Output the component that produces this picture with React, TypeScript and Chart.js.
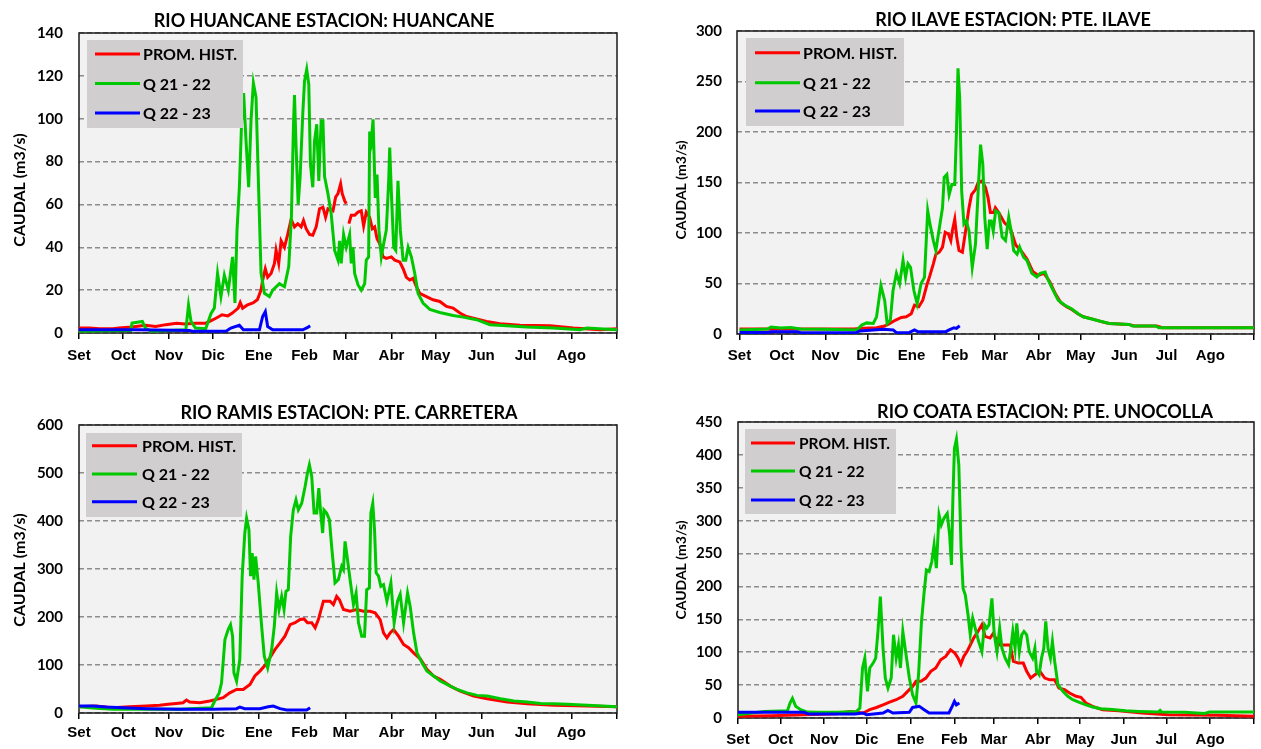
import React, { useEffect, useRef } from "react";
import { Chart, registerables } from "chart.js";

Chart.register(...registerables);
Chart.defaults.font.family = "Lato";

type Pt = [number, number | null];

const MONTH_LABELS = ["Set", "Oct", "Nov", "Dic", "Ene", "Feb", "Mar", "Abr", "May", "Jun", "Jul", "Ago"];
const MONTH_STARTS = [0, 30, 61, 91, 122, 153, 181, 212, 242, 273, 303, 334, 365];
const LEGEND_LABELS = ["PROM. HIST.", "Q 21 - 22", "Q 22 - 23"];
const COLORS = ["#ff0000", "#00c800", "#0000ff"];
const Y_TITLE = "CAUDAL (m3/s)";

// ---------- RIO HUANCANE (day of hydrological year from 1 Sep, m3/s) ----------
const huancaneProm: Pt[] = [[0,2.3],[7,2.3],[14,2],[23,2],[27,2.3],[36,2.8],[45,3.6],[52,3],[59,3.9],[66,4.6],[72,4.2],[79,4.6],[86,4.6],[91,6.2],[95,7.7],[97,8.5],[101,8],[104,9.3],[108,11.6],[109.4,14.2],[111,11.6],[114,13],[118,14],[121,15.5],[123.5,20],[124.6,24.7],[126.4,30],[128,26],[130.3,27.8],[132.6,32.5],[133.7,38.6],[135.5,32.5],[137.1,43],[139.4,40],[141.6,46],[143.9,53],[146.2,49.5],[148.4,51],[150.7,49.5],[152.3,52.5],[154.1,48.7],[156.4,46],[158.6,45.6],[160.9,49.5],[163.2,58],[165.5,58.7],[167.3,54],[168.9,58],[172.3,57],[174.1,63.4],[175.7,65],[177.5,69.6],[178.6,65],[180.2,61.8],[181.3,60.3],[182.2,null],[183.1,51],[184.7,54.9],[187,54.9],[189.3,56.4],[191.5,57],[193.1,50],[194.9,56.4],[197.2,54],[199,48.7],[200.6,49.5],[202.2,44],[204,41.7],[206.3,35.5],[208.5,34.8],[211.9,35.5],[214.2,34],[217.6,33.2],[219.9,30],[222.1,26],[224.4,24.7],[226.6,25.5],[228.9,21.6],[231.2,18.5],[235.7,17],[240.2,15.5],[244.8,14.7],[249.3,12.4],[253.8,11.6],[258.4,9.3],[262.9,7.7],[269.7,6.5],[276.5,5.4],[285.6,4.3],[299.2,3.6],[319.6,3.4],[335.4,2.3],[353.5,1.5],[365,2]];
const huancaneQ2122: Pt[] = [[0,0.8],[20,1],[35,1.2],[36,4.6],[43,5.4],[45,2.3],[49,0.8],[72.5,1.5],[74.3,13],[76,5.4],[79,2.3],[86,2],[89.5,9],[91.8,11.6],[94,27.8],[96.3,17],[98.6,27],[101.3,20],[104.2,35.5],[105.8,14],[107.2,48],[108.8,68],[110.4,100],[111.7,112],[113.3,90],[115.1,68],[116.7,99],[118.3,116.7],[120.1,110],[121.7,71],[123.5,28],[125.8,18.5],[129.2,17],[131.4,20],[136,23],[139.4,21.6],[142.3,31],[144.1,54],[145.5,97],[146.2,111],[147.3,86.5],[148.7,60],[150,72.6],[151.8,102],[153,117.5],[154.5,123],[155.9,116],[157,79],[158.6,68],[159.8,89.6],[161.3,97.4],[162.7,71],[164.3,99],[165.5,99],[166.6,73],[168.9,65],[171.1,55.6],[173.4,38.6],[175.7,34],[176.8,43],[177.9,32.5],[179.5,46],[181.3,40],[183.6,46],[184.7,32.5],[185.9,40],[187,27.8],[189.3,22.4],[191.5,20],[193.8,23],[194.9,34],[196.5,35.5],[197.2,94],[198.3,89.6],[199.5,99.7],[201,63],[202.2,74],[203.5,48],[205.1,35.5],[206.7,41.7],[208.5,48],[210.1,71],[210.8,86.5],[211.9,66],[213.5,40],[214.9,38.6],[216.4,71],[218,48],[219.9,34],[221.7,34],[223.3,40],[225.5,35.5],[227.8,27.8],[230,18.5],[233.4,14],[238,11],[244.8,9.6],[253.8,8.2],[260.6,7.4],[269.7,6.2],[278.8,3.9],[290.1,3.4],[303.7,2.8],[321.8,2.3],[340,1.5],[344.5,2.3],[365,1.5]];
const huancaneQ2223: Pt[] = [[0,1.5],[40,1.5],[75,1.2],[77,0.8],[99.7,0.8],[103,2.3],[108.8,3.6],[111.5,1.5],[122.4,1.5],[124.6,7.7],[126.4,10],[128,3],[131.4,1.5],[151.8,1.5],[155.2,2.6],[156.8,3.4]];

// ---------- RIO ILAVE ----------
const ilaveProm: Pt[] = [[0,5],[80.8,5],[87.9,5.6],[97.2,6.2],[103,7.9],[106.6,10.5],[110.8,13.8],[114.8,16.4],[118.3,17],[121.8,20],[124.1,28.5],[127.2,27],[130,33.4],[132.8,48],[135.1,58],[137.5,69.5],[139.3,79],[141.7,81],[144,86],[145.9,100.7],[148.2,99],[149.9,92.5],[151,102.3],[152.7,113.8],[154.1,95.7],[155.7,82.6],[158.1,81],[160.4,102.3],[162.8,125],[164.6,138],[167.4,143],[169.3,150],[172.1,151.5],[174.5,145],[176.3,135],[178,120.3],[180.3,120.3],[181.5,125],[184,120],[188,110],[192,105],[196,88],[200,82],[204,74],[208,62],[212,58],[216,60],[220,52],[224,40],[228,31],[232,27],[236,24],[240,20],[244,17],[250,15],[256,12.5],[262,10.5],[276,9.5],[280,8],[296,7.8],[300,6.2],[365,6.2]];
const ilaveQ2122: Pt[] = [[0,4],[20,5],[22.3,7],[29.3,6],[36.4,6.5],[43.4,5],[59.8,4.6],[83.2,4],[86.7,8.8],[90.2,11],[94.9,10.5],[97.2,17],[100.3,48],[103,33],[104.7,10.5],[107,13.8],[108.9,43],[111.3,60],[113.6,50],[116,73],[117.8,56],[119.5,69.5],[121.3,66],[123.7,43],[126,30],[128.8,50],[131.2,56],[133.5,122],[135.1,109],[137.5,92.5],[139.3,82.6],[142.2,109],[144,125],[145.2,155],[147.1,158],[148.7,138],[150.6,148],[152.7,148],[153.9,200],[155,263],[156.2,233],[157.6,141.6],[159.2,109],[160.9,112],[162.8,102],[165.1,66],[167.4,89],[169.3,141.6],[171,187.5],[172.6,168],[174,115],[175.7,84],[177.3,112],[178.6,112],[180,102],[181.7,122],[184,120],[186.3,96],[188.7,92.5],[191,115.4],[192.7,102],[194.5,82.6],[196.9,79],[198.7,86],[201.5,76],[203.9,72.8],[207.4,60],[210.9,56.4],[213.3,60],[216.8,61.3],[219.1,53],[222.6,43],[226.1,33.4],[230.8,28.5],[235.5,25],[240.2,20],[243.7,17],[248.4,15.4],[255.4,12.8],[262.4,10.5],[276.5,9.5],[278.8,7.9],[295.2,7.9],[297.5,6.2],[365,6.2]];
const ilaveQ2223: Pt[] = [[0,1.6],[20,1.6],[22.3,2.3],[41,2.3],[43.4,1.3],[83,1.6],[85.5,3],[101.9,4.6],[109,4],[111.3,1.3],[120.6,1.6],[124.1,4],[126.5,2.3],[146.4,2.3],[148.7,4],[152.2,6.2],[153.9,5.6],[156.2,8.2]];

// ---------- RIO RAMIS ----------
const ramisProm: Pt[] = [[0,13],[11.6,14.6],[23,11],[34.3,13],[45.6,14.6],[54.7,16],[60.4,18],[66,20],[70.6,21.5],[72.9,27],[75.1,22.9],[82,21.5],[88.7,25],[93.3,28.4],[97.8,32],[102.3,42],[106.9,49],[111.4,49],[116,59.6],[119.3,77],[122.7,87.3],[126.1,99],[129.5,115],[132.9,132],[136.4,146],[139.7,160],[143.2,184],[146.6,188],[150,194.7],[152.7,196],[155,188],[157.9,188],[160.2,177.4],[162.4,194.7],[165.8,233],[170.3,233],[172.6,226],[174.8,243],[176.7,236],[179.4,215.5],[183.9,212],[188.4,215.5],[193,212],[197.5,212],[200.9,208.6],[204.3,194.7],[206.6,167],[208.9,156.6],[211.1,167],[213.4,174],[216.8,160],[220.2,142.8],[223.6,136],[227,125.4],[231.5,113],[236,90.8],[240.6,77],[245.1,70],[251.9,56],[258.7,45.7],[267.8,35.3],[276.9,29.8],[290.5,22.9],[304.1,19.4],[322.2,16],[344.9,14.6],[365,13]];
const ramisQ2122: Pt[] = [[0,13],[9.4,10.4],[23,7.6],[45.6,7.6],[68.3,7.6],[89.9,11],[92.1,25],[95.1,42],[96.7,63],[99,153],[101.2,174],[102.8,184],[104.2,160],[105.1,84],[106.9,66.5],[109.1,111.6],[110.7,285],[112.5,375],[113.7,406],[115.3,382],[116.4,285],[117.5,333],[118.7,278],[119.8,326],[121.6,271],[123.9,181],[125.7,118.5],[128,94],[130.7,132],[132.5,181],[134.1,250],[135.7,215.5],[137.5,243],[139.1,215.5],[140.4,253.6],[142,257],[143.6,368],[145.4,423],[147.2,444],[148.8,423],[151.1,437],[153.4,472],[155,500],[156.3,517],[157.9,493],[159.5,416.5],[161.3,416.5],[162.7,468.5],[164,416.5],[165.3,375],[166.2,423],[168,416.5],[169.9,402.6],[171.4,347],[173.7,271],[176,278],[178.2,305.6],[179.4,298.7],[180.5,357.6],[181.6,333],[183.9,278],[186.2,226],[188,250],[189.6,188],[191.8,160],[193.7,160],[195.2,257],[197,260.6],[198,416.5],[199.3,437],[200.5,382],[201.6,292],[203.2,285],[204.8,264],[206.6,267.5],[208.9,233],[211.6,271],[213.8,188],[216.1,233],[217.9,247],[220.2,188],[222.9,250],[224.7,222],[227,167],[229.3,125.4],[232.7,104.6],[236,87.3],[240.6,77],[245.1,66.5],[249.7,59.6],[256.5,49],[263.3,42],[270.1,36.7],[276.9,35.3],[286,29.8],[295,25],[304.1,22.9],[313.2,20],[322.2,19.4],[331.3,18],[344.9,16],[365,13]];
const ramisQ2223: Pt[] = [[0,14.6],[9.4,14.6],[18.4,12.5],[29.8,11],[45.6,9],[68.3,7.6],[91,7.6],[106.9,9],[109.1,12.5],[112.5,9],[122.7,9],[128.4,13],[131.8,14.6],[136.4,9],[140.9,6.2],[154.5,6.2],[156.8,11]];

// ---------- RIO COATA ----------
const coataProm: Pt[] = [[0,2.5],[23.3,3.5],[46.6,5],[70,6.6],[79.3,10],[88.6,7.6],[93.2,12.7],[97.9,16],[102.6,20],[107.2,24],[111.9,27.8],[116.6,33],[120,40.5],[123.5,48],[125.9,55.7],[129.4,55.7],[132.9,60.7],[136.4,70.9],[139.9,76],[143.4,88.6],[146.9,93.6],[150.3,103.7],[153.4,98.7],[155.7,91],[157.6,82],[159.7,93.6],[162,101],[164.3,111],[166.7,121.5],[169,129],[172.5,141.7],[174.8,124],[178.3,121.5],[180.7,129],[183.2,116.4],[185.5,111],[189,111],[192.5,111],[194.8,86],[198.3,83.5],[201.8,83.5],[204.2,70.9],[207,60.7],[210,65.8],[213.5,70.9],[217,60.7],[220.5,58],[224,58],[227,45.5],[231,43],[234.5,38],[239.1,33],[242.6,31.4],[246.1,22.8],[250.8,17.7],[257.8,12.7],[269.4,11],[285.8,7.6],[304.4,5],[339.4,4],[365,2.5]];
const coataQ2122: Pt[] = [[0,5],[18.6,10],[35,11],[36.8,22.8],[38.5,30],[40.8,17.7],[44.3,12.7],[49,9],[57.1,8.6],[70,8.6],[83.9,10],[86.2,15],[88.1,76],[89.7,91],[91.6,40.5],[93.2,76],[95.6,83.5],[97.4,91],[99,131.6],[100.7,184.7],[102.6,106],[104.2,60.7],[106.1,45.5],[108.4,60.7],[110,126.5],[111.9,91],[113.5,111],[114.9,76],[116.6,131.6],[118.9,96],[121.2,60.7],[123.5,35.4],[125.9,22.8],[127.7,65.8],[129.8,146.8],[131.7,192],[133.3,225],[135.2,222.7],[137.1,237.9],[138.7,263],[140.3,227.7],[142.2,308.7],[143.8,293.5],[145.7,303.6],[148,311],[149.7,278],[151,232.8],[152,334],[153.1,410],[154.5,424],[156.2,384.6],[157.8,258],[159.2,197],[160.8,187],[162.7,157],[164.3,126.5],[166,151.8],[167.8,136.6],[170.2,116.4],[172.5,101],[174.4,141.7],[176,136.6],[177.6,141.7],[179.6,182],[181.3,126.5],[183.2,101],[185.1,136.6],[186.7,106],[189,91],[191.4,81],[193,106],[194.4,131.6],[196,106],[197.2,144],[199,101],[200.7,126.5],[202.3,131.6],[204.2,126.5],[206,101],[208.4,91],[210,106],[211.2,70.9],[213,65.8],[214.7,91],[216.3,106],[217.7,146.8],[219.3,106],[221,91],[222.4,116.4],[224,86],[226.3,50.6],[229.8,40.5],[233.3,32.9],[236.8,27.8],[241.5,23.8],[246.1,20],[250.8,16.7],[256.6,14.2],[264.8,13],[274.1,11],[283.4,10],[297.4,9],[298.6,11.6],[299.7,9],[316,8.6],[330,7],[333.5,9],[365,9]];
const coataQ2223: Pt[] = [[0,8.6],[46.6,8.6],[50,6],[82.7,6],[88.6,7.6],[90.9,5],[102.6,7.6],[106,11.6],[109.6,7.6],[121.2,8.6],[123.5,16],[128.2,17.7],[131.7,12.7],[135.2,7.6],[149.2,7.6],[151.5,17.7],[153.1,25.3],[154.5,20],[156.6,22.8]];

interface Box { l: number; t: number; w: number; h: number }
interface Area { l: number; t: number; r: number; b: number }
interface LegendCfg { dx: number; dy: number; w: number; h: number; rows: number[]; lx0: number; lx1: number; tx: number; size: number }
interface PanelCfg {
  title: string; titleX: number; titleBase: number; titleSize: number;
  yTitleX: number; yTitleY: number; yTitleSize: number;
  yMax: number; yStep: number; xMin: number;
  canvas: Box; area: Area; yPad: number; xPad: number;
  series: Pt[][]; legend: LegendCfg;
}

const PANELS: PanelCfg[] = [
  {
    title: "RIO HUANCANE ESTACION: HUANCANE", titleX: 324, titleBase: 27, titleSize: 18,
    yTitleX: 20, yTitleY: 190, yTitleSize: 16,
    yMax: 140, yStep: 20, xMin: 0,
    canvas: { l: 0, t: 0, w: 630, h: 382 }, area: { l: 79, t: 33, r: 617, b: 333 }, yPad: 16, xPad: 8,
    series: [huancaneProm, huancaneQ2122, huancaneQ2223],
    legend: { dx: 8, dy: 7, w: 156, h: 88, rows: [14, 43.5, 73], lx0: 8, lx1: 53, tx: 56, size: 16 },
  },
  {
    title: "RIO ILAVE ESTACION: PTE. ILAVE", titleX: 1013, titleBase: 26, titleSize: 18,
    yTitleX: 681, yTitleY: 190, yTitleSize: 14,
    yMax: 300, yStep: 50, xMin: -1.8,
    canvas: { l: 640, t: 0, w: 621, h: 382 }, area: { l: 737, t: 31, r: 1259, b: 334 }, yPad: 15, xPad: 7,
    series: [ilaveProm, ilaveQ2122, ilaveQ2223],
    legend: { dx: 9, dy: 7, w: 158, h: 88, rows: [14.7, 44.7, 73], lx0: 9, lx1: 54, tx: 57, size: 16 },
  },
  {
    title: "RIO RAMIS ESTACION: PTE. CARRETERA", titleX: 349, titleBase: 419, titleSize: 18,
    yTitleX: 20, yTitleY: 570, yTitleSize: 16,
    yMax: 600, yStep: 100, xMin: 0,
    canvas: { l: 0, t: 385, w: 630, h: 364 }, area: { l: 79, t: 425, r: 617, b: 713 }, yPad: 16, xPad: 5,
    series: [ramisProm, ramisQ2122, ramisQ2223],
    legend: { dx: 7, dy: 8, w: 156, h: 84, rows: [12.7, 41, 68.7], lx0: 6, lx1: 51, tx: 56, size: 16 },
  },
  {
    title: "RIO COATA ESTACION: PTE. UNOCOLLA", titleX: 1045, titleBase: 418, titleSize: 18,
    yTitleX: 681, yTitleY: 570, yTitleSize: 14,
    yMax: 450, yStep: 50, xMin: 0,
    canvas: { l: 640, t: 385, w: 621, h: 364 }, area: { l: 738, t: 422, r: 1259, b: 718 }, yPad: 16, xPad: 7,
    series: [coataProm, coataQ2122, coataQ2223],
    legend: { dx: 7, dy: 7, w: 151, h: 85, rows: [14, 42, 71], lx0: 6, lx1: 50, tx: 54, size: 15.5 },
  },
];

function toXY(a: Pt[]) {
  return a.map(([x, y]) => ({ x, y }));
}

function Panel({ cfg }: { cfg: PanelCfg }) {
  const ref = useRef<HTMLCanvasElement | null>(null);
  useEffect(() => {
    const c = cfg;
    const canvas = ref.current;
    if (!canvas) return;
    const padTop = c.area.t - c.canvas.t;
    const padRight = c.canvas.l + c.canvas.w - c.area.r;
    const yAxisW = c.area.l - c.canvas.l;
    const xAxisH = c.canvas.t + c.canvas.h - c.area.b;

    const decor = {
      id: "decor",
      beforeDraw(chart: any) {
        const { ctx, chartArea: a } = chart;
        ctx.save();
        ctx.fillStyle = "#f2f2f2";
        ctx.fillRect(a.left, a.top, a.right - a.left, a.bottom - a.top);
        ctx.restore();
      },
      beforeDatasetsDraw(chart: any) {
        const { ctx, chartArea: a } = chart;
        ctx.save();
        ctx.strokeStyle = "#1a1a1a";
        ctx.lineWidth = 1.5;
        ctx.strokeRect(a.left, a.top, a.right - a.left, a.bottom - a.top);
        ctx.restore();
      },
      afterDatasetsDraw(chart: any) {
        const { ctx, chartArea: a } = chart;
        const L = c.legend;
        ctx.save();
        const bx = a.left + L.dx;
        const by = a.top + L.dy;
        ctx.fillStyle = "#d0cece";
        ctx.fillRect(bx, by, L.w, L.h);
        ctx.font = `bold ${L.size}px Lato`;
        ctx.textBaseline = "middle";
        ctx.textAlign = "left";
        LEGEND_LABELS.forEach((lab, i) => {
          const ry = by + L.rows[i];
          ctx.strokeStyle = COLORS[i];
          ctx.lineWidth = 3;
          ctx.beginPath();
          ctx.moveTo(bx + L.lx0, ry);
          ctx.lineTo(bx + L.lx1, ry);
          ctx.stroke();
          ctx.fillStyle = "#000";
          ctx.fillText(lab, bx + L.tx, ry + 1);
        });
        ctx.font = `bold ${c.titleSize}px Lato`;
        ctx.textAlign = "center";
        ctx.textBaseline = "alphabetic";
        ctx.fillText(c.title, c.titleX - c.canvas.l, c.titleBase - c.canvas.t);
        ctx.translate(c.yTitleX - c.canvas.l, c.yTitleY - c.canvas.t);
        ctx.rotate(-Math.PI / 2);
        ctx.font = `bold ${c.yTitleSize}px Lato`;
        ctx.textBaseline = "middle";
        ctx.fillText(Y_TITLE, 0, 0);
        ctx.restore();
      },
    };

    const chart = new Chart(canvas, {
      type: "line",
      data: {
        datasets: c.series.map((s, i) => ({
          label: LEGEND_LABELS[i],
          data: toXY(s) as any,
          borderColor: COLORS[i],
          backgroundColor: COLORS[i],
          borderWidth: 3,
          pointRadius: 0,
          pointHoverRadius: 0,
          fill: false,
          tension: 0,
          spanGaps: false,
          order: 3 - i,
        })),
      },
      options: {
        responsive: false,
        animation: false,
        devicePixelRatio: 1,
        events: [],
        layout: { padding: { left: 0, top: padTop, right: padRight, bottom: 0 } },
        plugins: { legend: { display: false }, title: { display: false }, tooltip: { enabled: false } },
        scales: {
          x: {
            type: "linear",
            min: c.xMin,
            max: 365,
            afterBuildTicks: (scale: any) => {
              scale.ticks = MONTH_STARTS.map((v) => ({ value: v }));
            },
            afterFit: (scale: any) => {
              scale.height = xAxisH;
            },
            ticks: {
              autoSkip: false,
              maxRotation: 0,
              minRotation: 0,
              padding: c.xPad,
              color: "#000",
              font: { family: "'Liberation Sans', Arial, sans-serif", size: 15, weight: "bold" },
              callback: (value: any) => {
                const idx = MONTH_STARTS.indexOf(Number(value));
                return idx >= 0 && idx < MONTH_LABELS.length ? MONTH_LABELS[idx] : "";
              },
            },
            grid: { display: true, drawOnChartArea: false, drawTicks: true, tickLength: 6, color: "#000", lineWidth: 1.5 },
            border: { display: false },
          },
          y: {
            type: "linear",
            min: 0,
            max: c.yMax,
            afterFit: (scale: any) => {
              scale.width = yAxisW;
            },
            ticks: {
              stepSize: c.yStep,
              padding: c.yPad,
              color: "#000",
              font: { family: "Lato", size: 15, weight: "bold" },
            },
            grid: { display: true, drawOnChartArea: true, drawTicks: false, color: "#8c8c8c", lineWidth: 1.5 },
            border: { display: false, dash: [5, 3] },
          },
        },
      } as any,
      plugins: [decor],
    });
    return () => chart.destroy();
  }, [cfg]);

  return (
    <canvas
      ref={ref}
      width={cfg.canvas.w}
      height={cfg.canvas.h}
      style={{ position: "absolute", left: cfg.canvas.l, top: cfg.canvas.t, width: cfg.canvas.w, height: cfg.canvas.h }}
    />
  );
}

export default function App() {
  return (
    <div style={{ position: "absolute", left: 0, top: 0, width: 1261, height: 749, background: "#fff", overflow: "hidden" }}>
      {PANELS.map((p, i) => (
        <Panel key={i} cfg={p} />
      ))}
    </div>
  );
}
